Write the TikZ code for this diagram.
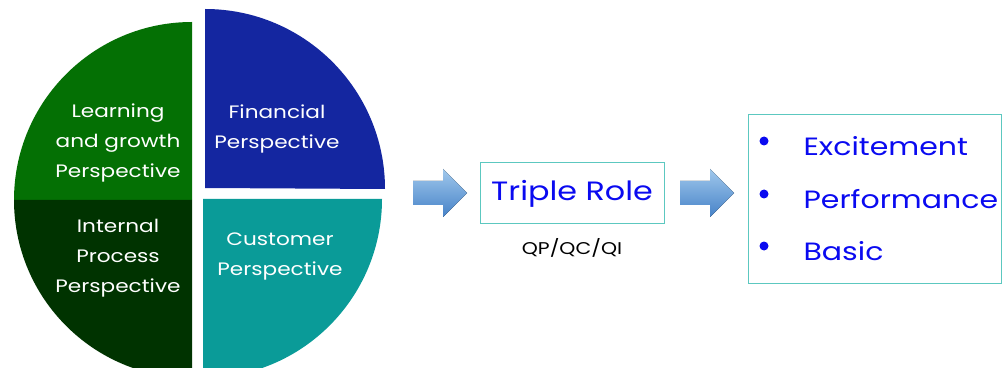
\documentclass[tikz,border=0pt]{standalone}
\usepackage{fontspec}
\setmainfont[FakeStretch=1.2]{Poppins}
\usetikzlibrary{positioning}
\definecolor{learngreen}{RGB}{4,112,4}
\definecolor{processgreen}{RGB}{0,51,0}
\definecolor{financeblue}{RGB}{20,38,160}
\definecolor{customerteal}{RGB}{10,155,152}
\definecolor{boxteal}{RGB}{92,200,192}
\definecolor{roleblue}{RGB}{10,10,240}
\definecolor{arrowlight}{RGB}{160,200,236}
\definecolor{arrowdark}{RGB}{70,130,200}
\tikzset{
  x=1pt, y=1pt,
  pie label/.style={text=white, align=center, font=\fontsize{18}{30}\selectfont},
  role box/.style={draw=boxteal, line width=1pt, text=roleblue},
  block arrow/.style={top color=arrowlight, bottom color=arrowdark, draw=none},
  list item/.style={text=roleblue, anchor=west, font=\fontsize{25}{30}\selectfont},
  list dot/.style={circle, fill=roleblue, inner sep=0pt, minimum size=9pt},
}

\begin{document}
\begin{tikzpicture}
\clip (0,0) rectangle (1003,367);
% the four perspectives
\fill[learngreen] (192,167) -- (14,167) arc[start angle=180, end angle=90, radius=178] -- cycle;
\fill[processgreen] (192,167) -- (14,167) arc[start angle=180, end angle=270, radius=178] -- cycle;
\fill[financeblue] (205,179) -- (205,358) arc[start angle=90, end angle=0, radius=180] -- cycle;
\fill[customerteal] (203,168) -- (382,168) arc[start angle=0, end angle=-90, radius=179] -- cycle;
\node[pie label] (learning) at (118,224) {Learning\\and growth\\Perspective};
\node[pie label] (financial) at (277,238) {Financial\\Perspective};
\node[pie label] (internal) at (118,109) {Internal\\Process\\Perspective};
\node[pie label] (customer) at (280,111) {Customer\\Perspective};
% boxes
\node[role box, minimum width=184, minimum height=61, font=\fontsize{26.5}{30}\selectfont] (role) at (572,173.5) {Triple Role};
\node[below=10pt of role, font=\fontsize{17}{18}\selectfont] (quality) {QP/QC/QI};
\node[role box, minimum width=253, minimum height=168] (kano) at (874.5,168) {};
% block arrows
\foreach \nm/\x in {arrowA/413, arrowB/680}
{
  \fill[block arrow] (\x,162) -- ++(30,0) -- ++(0,-12) -- ++(24,24) -- ++(-24,24)
    -- ++(0,-12) -- ++(-30,0) -- cycle;
  \coordinate (\nm) at (\x+27,174);
}
% list
\foreach \txt/\y in {Excitement/221, Performance/168, Basic/116}
{
  \node[list dot] (dot\txt) at (764,\y+5) {};
  \node[list item] (item\txt) at (800,\y) {\txt};
}
\end{tikzpicture}
\end{document}
